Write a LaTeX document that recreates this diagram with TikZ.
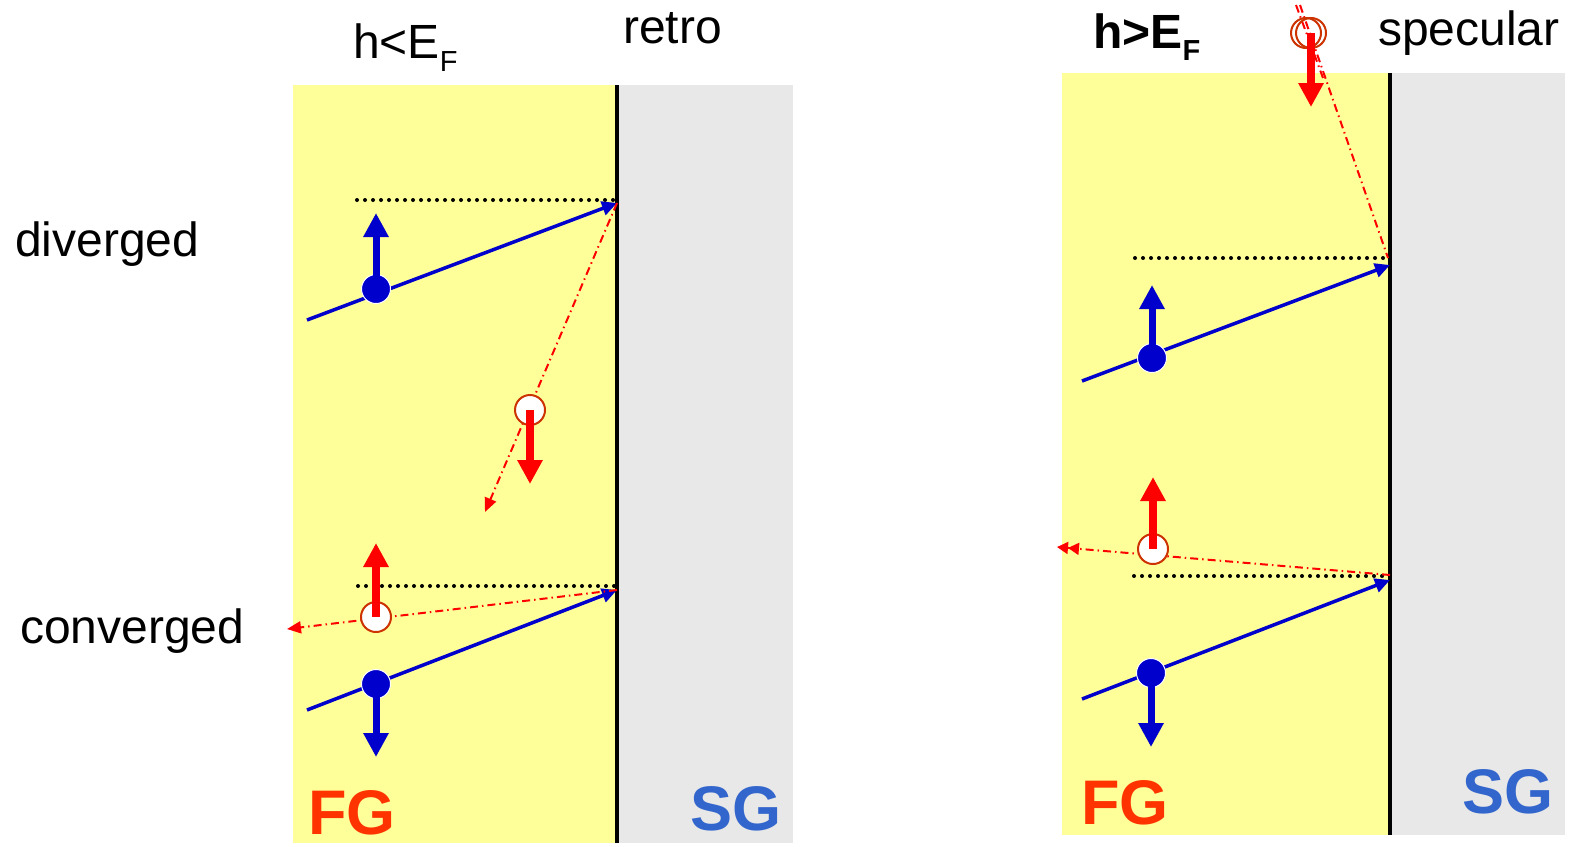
\documentclass[tikz,border=0pt]{standalone}
\usepackage{fontspec}
\setmainfont{Liberation Sans}
\usetikzlibrary{arrows.meta}
\definecolor{fgyellow}{RGB}{255,255,153}
\definecolor{sggrey}{RGB}{232,232,232}
\definecolor{eblue}{RGB}{0,0,204}
\definecolor{holerim}{RGB}{204,51,0}
\definecolor{fgred}{RGB}{255,51,0}
\definecolor{sgblue}{RGB}{51,102,204}
\begin{document}
\begin{tikzpicture}[x=1pt,y=-1pt]
\tikzstyle{electron}=[circle,fill=eblue,draw=white,line width=1pt,minimum size=29pt,inner sep=0pt]
\tikzstyle{hole}=[circle,fill=white,draw=holerim,line width=2pt,minimum size=30pt,inner sep=0pt]
\tikzstyle{traj}=[eblue,line width=3.5pt,-{Triangle[width=14pt,length=15pt]}]
\tikzstyle{espin}=[eblue,line width=7pt,-{Triangle[width=24pt,length=24pt]}]
\tikzstyle{hspin}=[red,line width=8pt,-{Triangle[width=24pt,length=24pt]}]
\tikzstyle{refl}=[red,line width=2pt,dash pattern=on 8pt off 4pt on 1.5pt off 4pt]
\tikzstyle{fermi}=[black,line width=4pt,line cap=round,dash pattern=on 0pt off 8pt]
\tikzstyle{txt}=[font=\fontsize{48}{50}\selectfont,inner sep=0pt,anchor=base west]
\tikzstyle{metal}=[font=\fontsize{63}{66}\selectfont\bfseries,inner sep=0pt,anchor=base west]
\useasboundingbox (0,0) rectangle (1573,846);

% retro (left)
\fill[fgyellow] (293,85) rectangle (617,843);
\fill[sggrey] (617,85) rectangle (793,843);
\draw[line width=4pt] (617,85) -- (617,843);

\coordinate (fL1a) at (357,200);
\coordinate (fL1b) at (617,200);
\coordinate (inL1) at (307,320);
\coordinate (rL1) at (617,203);
\coordinate (outL1) at (485,512);
\coordinate (eL1s) at (376,213);
\coordinate (hL1s) at (530,484);
\coordinate (fL2a) at (358,586);
\coordinate (fL2b) at (617,586);
\coordinate (inL2) at (307,710);
\coordinate (rL2) at (617,590);
\coordinate (outL2) at (287,629);
\coordinate (eL2s) at (376,757);
\coordinate (hL2s) at (376,543);

\draw[fermi] (fL1a) -- (fL1b);
\draw[fermi] (fL2a) -- (fL2b);
\draw[traj] (inL1) -- (rL1);
\draw[traj] (inL2) -- (rL2);
\draw[refl,-{Triangle[width=12pt,length=14pt]}] (rL1) -- (outL1);
\draw[refl,-{Triangle[width=12pt,length=14pt]}] (rL2) -- (outL2);
\node[electron] (eL1) at (376,289) {};
\node[electron] (eL2) at (376,684) {};
\node[hole] (hL1) at (530,410) {};
\node[hole] (hL2) at (376,617) {};
\draw[espin] (eL1.center) -- (eL1s);
\draw[espin] (eL2.center) -- (eL2s);
\draw[hspin] (hL1.center) -- (hL1s);
\draw[hspin] (hL2.center) -- (hL2s);

\node[txt] (gapL) at (353,58) {h<E\raisebox{-13pt}{\fontsize{29}{30}\selectfont F}};
\node[txt] (retro) at (623,43) {retro};
\node[txt] (div) at (15,256) {diverged};
\node[txt] (conv) at (20,643) {converged};
\node[metal,text=fgred] (fgL) at (308,834) {FG};
\node[metal,text=sgblue] (sgL) at (690,830) {SG};

% specular (right)
\fill[fgyellow] (1062,73) rectangle (1390,835);
\fill[sggrey] (1390,73) rectangle (1565,835);
\draw[line width=4pt] (1390,73) -- (1390,835);

\coordinate (fR1a) at (1135,258);
\coordinate (fR1b) at (1390,258);
\coordinate (inR1) at (1082,381);
\coordinate (rR1) at (1390,265);
\coordinate (topR1) at (1300,5);
\coordinate (topR1b) at (1296,5);
\coordinate (midR1b) at (1323,78);
\coordinate (endR1) at (1388,258);
\coordinate (eR1s) at (1152,285);
\coordinate (hR1s) at (1311,107);
\coordinate (fR2a) at (1134,576);
\coordinate (fR2b) at (1390,576);
\coordinate (inR2) at (1082,699);
\coordinate (rR2) at (1390,580);
\coordinate (startR2) at (1390,575);
\coordinate (outR2) at (1057,547);
\coordinate (eR2s) at (1151,747);
\coordinate (hR2s) at (1153,477);

\draw[fermi] (fR1a) -- (fR1b);
\draw[fermi] (fR2a) -- (fR2b);
\draw[traj] (inR1) -- (rR1);
\draw[traj] (inR2) -- (rR2);
\draw[refl] (topR1) -- (endR1);
\draw[refl] (topR1b) -- (midR1b);
\draw[refl,-{Triangle[width=12pt,length=11pt]Triangle[width=12pt,length=11pt]}] (startR2) -- (outR2);
\node[electron] (eR1) at (1152,358) {};
\node[electron] (eR2) at (1151,673) {};
\node[circle,draw=holerim,line width=2pt,minimum size=30pt,inner sep=0pt] (hR1g) at (1306,33) {};
\node[hole,fill=none] (hR1) at (1311,33) {};
\node[hole] (hR2) at (1153,549) {};
\draw[espin] (eR1.center) -- (eR1s);
\draw[espin] (eR2.center) -- (eR2s);
\draw[hspin] (hR1.center) -- (hR1s);
\draw[hspin] (hR2.center) -- (hR2s);

\node[txt] (gapR) at (1093,48) {\bfseries h>E\raisebox{-12pt}{\fontsize{29}{30}\selectfont F}};
\node[txt] (spec) at (1378,45) {specular};
\node[metal,text=fgred] (fgR) at (1081,824) {FG};
\node[metal,text=sgblue] (sgR) at (1462,813) {SG};
\end{tikzpicture}
\end{document}
